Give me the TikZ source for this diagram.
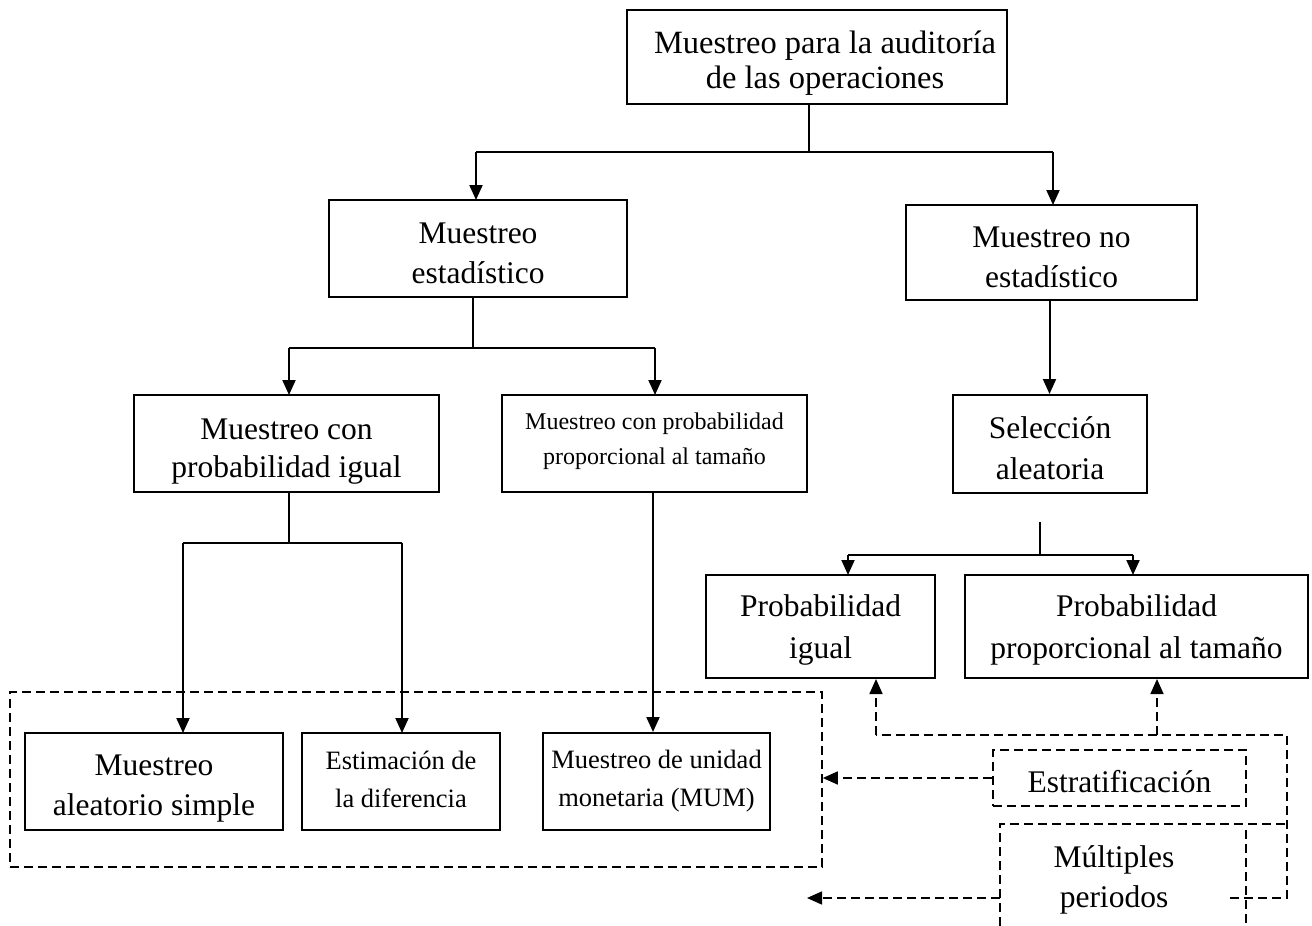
\documentclass[tikz,border=0pt]{standalone}
\usepackage{fontspec}
\setmainfont{Liberation Serif}
\usetikzlibrary{arrows.meta}
\newcommand\txtL{\fontsize{31.5}{38}\selectfont}
\newcommand\txtS{\fontsize{24}{35}\selectfont}
\newcommand\txtM{\fontsize{26.5}{38}\selectfont}
\tikzset{
  box/.style={draw, line width=2pt, inner sep=0pt},
  txt/.style={align=center, inner sep=0pt},
  link/.style={line width=2pt},
  arr/.style={line width=2pt, -{Triangle[length=15pt,width=13pt]}},
  dlink/.style={line width=1.6pt, dash pattern=on 9pt off 5pt},
  darr/.style={dlink, -{Triangle[length=15pt,width=13pt]}},
}
\begin{document}
\begin{tikzpicture}[x=1pt,y=-1pt]
\useasboundingbox (0,0) rectangle (1312,926);

% boxes
\node[box, minimum width=380pt, minimum height=94pt] (top) at (817,57) {};
\node[box, minimum width=298pt, minimum height=97pt] (est) at (478,248.5) {};
\node[box, minimum width=291pt, minimum height=95pt] (noest) at (1051.5,252.5) {};
\node[box, minimum width=305pt, minimum height=97pt] (pigual) at (286.5,443.5) {};
\node[box, minimum width=305pt, minimum height=97pt] (pprop) at (654.5,443.5) {};
\node[box, minimum width=194pt, minimum height=98pt] (sel) at (1050,444) {};
\node[box, minimum width=229pt, minimum height=103pt] (prigual) at (820.5,626.5) {};
\node[box, minimum width=343pt, minimum height=103pt] (prprop) at (1136.5,626.5) {};
\node[box, minimum width=258pt, minimum height=97pt] (mas) at (154,781.5) {};
\node[box, minimum width=198pt, minimum height=97pt] (estdif) at (401,781.5) {};
\node[box, minimum width=227pt, minimum height=97pt] (mum) at (656.5,781.5) {};

% box texts
\node[txt, font=\fontsize{32.5}{35}\selectfont] (top-t) at ([xshift=8pt,yshift=-6pt]top.center)
  {Muestreo para la auditoría\\de las operaciones};
\node[txt, font=\fontsize{31.5}{40}\selectfont] (est-t) at ([yshift=-5pt]est.center) {Muestreo\\estadístico};
\node[txt, font=\fontsize{31.5}{40}\selectfont] (noest-t) at ([yshift=-5pt]noest.center) {Muestreo no\\estadístico};
\node[txt, font=\fontsize{31.5}{38}\selectfont] (pigual-t) at ([yshift=-8pt]pigual.center) {Muestreo con\\probabilidad igual};
\node[txt, font=\txtS] (pprop-t) at ([yshift=2pt]pprop.center) {Muestreo con probabilidad\\proporcional al tamaño};
\node[txt, font=\fontsize{31.5}{41}\selectfont] (sel-t) at ([yshift=-4pt]sel.center) {Selección\\aleatoria};
\node[txt, font=\fontsize{31.5}{42}\selectfont] (prigual-t) at ([yshift=-3pt]prigual.center) {Probabilidad\\igual};
\node[txt, font=\fontsize{31.5}{42}\selectfont] (prprop-t) at ([yshift=-3pt]prprop.center) {Probabilidad\\proporcional al tamaño};
\node[txt, font=\fontsize{31.5}{40}\selectfont] (mas-t) at ([yshift=-7pt]mas.center) {Muestreo\\aleatorio simple};
\node[txt, font=\txtM] (estdif-t) at ([yshift=2pt]estdif.center) {Estimación de\\la diferencia};
\node[txt, font=\txtM] (mum-t) at (mum.center) {Muestreo de unidad\\monetaria (MUM)};

% dashed group around the three methods
\node[draw, dlink, minimum width=812pt, minimum height=175pt, inner sep=0pt] (grupo) at (416,779.5) {};

% stratification and multiple periods
\node[draw, dlink, minimum width=253pt, minimum height=56pt, inner sep=0pt] (estrat) at (1119.5,778) {};
\node[txt, font=\txtL] (estrat-t) at ([yshift=-4pt]estrat.center) {Estratificación};
\node[txt, font=\fontsize{31.5}{40}\selectfont] (multi) at (1114,880) {Múltiples\\periodos};

% solid connectors
\coordinate (t0) at ([xshift=-8pt]top.south);
\coordinate (t1) at (809,152);
\draw[link] (t0) -- (t1);
\draw[link] (476,152) -- (1053,152);
\draw[arr] (476,152) -- (476,200);
\draw[arr] (1053,152) -- (1053,205);

\coordinate (e0) at ([xshift=-5pt]est.south);
\draw[link] (e0) -- ++(0,51);
\draw[link] (289,348) -- (655,348);
\draw[arr] (289,348) -- (289,395);
\draw[arr] (655,348) -- (655,395);

\draw[arr] ([xshift=-2pt]noest.south) -- ([xshift=-2pt]noest.south |- sel.north);

\coordinate (s0) at (1040,522);
\draw[link] (s0) -- (1040,555);
\draw[link] (848,555) -- (1133,555);
\draw[arr] (848,555) -- (848,575);
\draw[arr] (1133,555) -- (1133,575);

\coordinate (p0) at ([xshift=2.5pt]pigual.south);
\draw[link] (p0) -- ++(0,51);
\draw[link] (183,543) -- (402,543);
\draw[arr] (183,543) -- (183,733);
\draw[arr] (402,543) -- (402,733);

\draw[arr] ([xshift=-1.5pt]pprop.south) -- ([xshift=-1.5pt]pprop.south |- mum.north);

% dashed connectors
\coordinate (d1) at (876,735);
\coordinate (d2) at (1157,735);
\coordinate (d3) at (1287,735);
\coordinate (d4) at (1287,898);
\coordinate (d5) at (1230,898);
\draw[dlink] (d5) -- (d4) -- (d3) -- (d1);
\draw[darr] (d1) -- (d1 |- prigual.south);
\draw[darr] (d2) -- (d2 |- prprop.south);
\draw[darr] (estrat.west) -- (estrat.west -| grupo.east);
\draw[dlink] (1000,926) -- (1000,824) -- (1288,824);
\draw[dlink] (1246,830) -- (1246,926);
\draw[darr] (1000,898) -- (807,898);
\end{tikzpicture}
\end{document}
